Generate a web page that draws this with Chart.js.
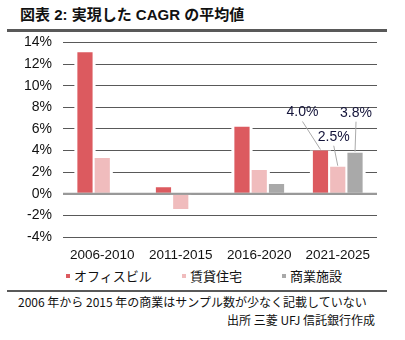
<!DOCTYPE html>
<html lang="ja">
<head>
<meta charset="utf-8">
<script src="https://cdn.jsdelivr.net/npm/chart.js@4.4.1/dist/chart.umd.min.js"></script>
<style>
  html, body { margin: 0; padding: 0; background: #fff; }
  body { width: 405px; height: 340px; position: relative; overflow: hidden;
         font-family: "Liberation Sans", Arial, "Noto Sans CJK JP", sans-serif; color: #111; }
  #title { position: absolute; left: 20px; top: 3px; font-size: 15px; font-weight: bold; white-space: nowrap; }
  .rule { position: absolute; left: 7px; width: 380px; background: #595959; }
  #chart-box { position: absolute; left: 0; top: 23px; width: 405px; height: 242px; }
  #legend { position: absolute; top: 267px; left: 0; width: 405px; height: 18px; font-family: "Noto Sans CJK JP", sans-serif; font-size: 13px; }
  .legend-item { position: absolute; top: 0; white-space: nowrap; line-height: 18px; }
  .legend-box { display: inline-block; width: 4px; height: 4px; margin-right: 4px; vertical-align: middle; position: relative; top: -1px; }
  .note { position: absolute; font-family: "Noto Sans CJK JP", sans-serif; font-size: 12px; white-space: nowrap; line-height: 16px; }
</style>
</head>
<body>
<div id="title">図表 2: 実現した CAGR の平均値</div>
<div class="rule" style="top:29px;height:3px;"></div>
<div id="chart-box"><canvas id="cagr-chart"></canvas></div>
<div id="legend"></div>
<div class="rule" style="top:290px;height:2px;"></div>
<div class="note" style="left:18px;top:294px;">2006 年から 2015 年の商業はサンプル数が少なく記載していない</div>
<div class="note" style="right:30px;top:312px;">出所 三菱 UFJ 信託銀行作成</div>

<script>
const periods = ['2006-2010', '2011-2015', '2016-2020', '2021-2025'];
const seriesNames = ['オフィスビル', '賃貸住宅', '商業施設'];
const officeCagr = [13.1, 0.6, 6.2, 4.0];
const rentalCagr = [3.3, -1.4, 2.2, 2.5];
const retailCagr = [null, null, 0.9, 3.8];
const yTicks = [-4, -2, 0, 2, 4, 6, 8, 10, 12, 14];
// only the latest period gets value callouts
const labelledPeriod = 3;

const seriesColors = ['#dc5a5f', '#f0bcbd', '#a9a9a9'];
const calloutOffsets = [[-18, -38], [-4, -30], [1, -40]];

// white gap each side of a bar so grid lines stop short of it
const barGaps = {
  id: 'barGaps',
  beforeDatasetsDraw(chart) {
    const ctx = chart.ctx;
    ctx.save();
    ctx.fillStyle = '#fff';
    chart.data.datasets.forEach((ds, i) => {
      chart.getDatasetMeta(i).data.forEach((bar, j) => {
        if (ds.data[j] == null) return;
        const p = bar.getProps(['x', 'y', 'width', 'base'], true);
        const top = Math.min(p.y, p.base), bottom = Math.max(p.y, p.base);
        ctx.fillRect(p.x - p.width / 2 - 3, top, p.width + 6, bottom - top);
      });
    });
    ctx.restore();
  },
  afterDatasetsDraw(chart) {
    const ctx = chart.ctx;
    const area = chart.chartArea;
    const zeroY = chart.scales.y.getPixelForValue(0);
    ctx.save();
    ctx.strokeStyle = '#999';
    ctx.lineWidth = 2;
    ctx.beginPath();
    ctx.moveTo(area.left, zeroY);
    ctx.lineTo(area.right, zeroY);
    ctx.stroke();

    // value callouts with leader lines
    ctx.font = '14px "Liberation Sans", Arial, sans-serif';
    ctx.textAlign = 'center';
    ctx.textBaseline = 'middle';
    chart.data.datasets.forEach((ds, i) => {
      const v = ds.data[labelledPeriod];
      if (v == null) return;
      const bar = chart.getDatasetMeta(i).data[labelledPeriod];
      const p = bar.getProps(['x', 'y'], true);
      const [dx, dy] = calloutOffsets[i];
      const lx = p.x + dx, ly = p.y + dy;
      ctx.strokeStyle = '#aaa';
      ctx.lineWidth = 1;
      ctx.beginPath();
      ctx.moveTo(lx, ly + 9);
      ctx.lineTo(p.x, p.y - 1);
      ctx.stroke();
      ctx.fillStyle = '#14143a';
      ctx.fillText(v.toFixed(1) + '%', lx, ly);
    });
    ctx.restore();
  }
};

const chart = new Chart(document.getElementById('cagr-chart'), {
  type: 'bar',
  data: {
    labels: periods,
    datasets: [
      { label: seriesNames[0], data: officeCagr, backgroundColor: seriesColors[0] },
      { label: seriesNames[1], data: rentalCagr, backgroundColor: seriesColors[1] },
      { label: seriesNames[2], data: retailCagr, backgroundColor: seriesColors[2] }
    ]
  },
  options: {
    responsive: true,
    maintainAspectRatio: false,
    animation: false,
    categoryPercentage: 0.66,
    barPercentage: 0.88,
    layout: { padding: { left: 0, right: 28, top: 0, bottom: 0 } },
    plugins: {
      legend: { display: false },
      tooltip: { enabled: false }
    },
    scales: {
      x: {
        grid: { display: false },
        border: { display: false },
        ticks: { color: '#111', font: { family: '"Liberation Sans", Arial, sans-serif', size: 13.5 }, padding: 2 },
        afterFit(scale) { scale.height = 28; }
      },
      y: {
        min: -4,
        max: 14,
        afterBuildTicks(scale) { scale.ticks = yTicks.map(v => ({ value: v })); },
        grid: {
          drawTicks: false,
          color: ctx => ctx.tick && ctx.tick.value === 0 ? '#999' : '#595959',
          lineWidth: ctx => ctx.tick && ctx.tick.value === 0 ? 2 : 1
        },
        border: { display: false },
        ticks: {
          color: '#111',
          padding: 11,
          font: { family: '"Liberation Sans", Arial, sans-serif', size: 14 },
          callback: v => v + '%'
        },
        afterFit(scale) { scale.width = 63; }
      }
    }
  },
  plugins: [barGaps]
});

// legend built from the same series names and colours
const legendEl = document.getElementById('legend');
const legendLeft = [66, 182, 282];
seriesNames.forEach((name, i) => {
  const item = document.createElement('div');
  item.className = 'legend-item';
  item.style.left = legendLeft[i] + 'px';
  item.innerHTML = '<span class="legend-box" style="background:' + seriesColors[i] + '"></span>' + name;
  legendEl.appendChild(item);
});
</script>
</body>
</html>
